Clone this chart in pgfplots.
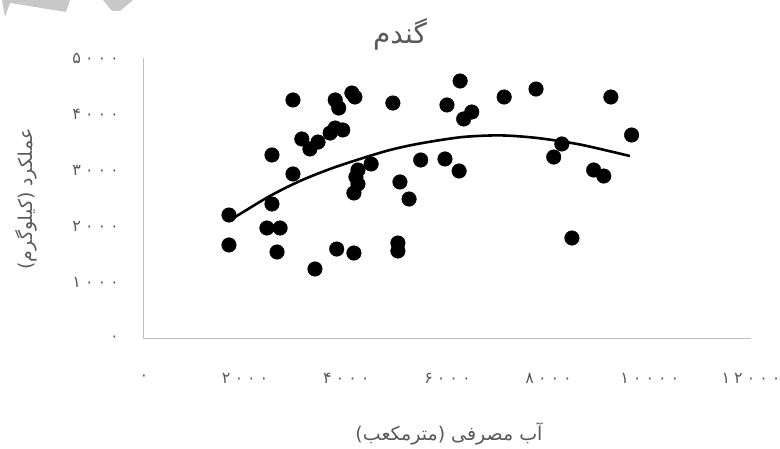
\documentclass[border=0pt]{standalone}
\usepackage{fontspec}
\usepackage{pgfplots}
\pgfplotsset{compat=1.18}
\TeXXeTstate=1
\newfontfamily\arabicfont[Script=Arabic]{DejaVu Sans}
\newfontfamily\digitfont[LetterSpace=25]{DejaVu Sans}
\definecolor{txtgray}{RGB}{89,89,89}
\definecolor{axgray}{RGB}{191,191,191}
\definecolor{wmgray}{RGB}{200,200,200}

\begin{document}
\begin{tikzpicture}
% page = 780 x 449, plot area lower left at (0,0)
\path[use as bounding box] (-144pt,-110pt) rectangle (636pt,339pt);
% grey scrap at the top left corner of the crop
\fill[wmgray] (-144pt,339pt) -- (-74pt,339pt) -- (-78pt,327pt) -- (-134pt,336pt) -- (-139pt,322pt) -- (-142pt,339pt) -- cycle;
\fill[wmgray] (-41pt,339pt) -- (-11pt,339pt) -- (-24pt,328pt) -- (-32pt,328pt) -- cycle;

\begin{axis}[
  scale only axis,
  width=607pt, height=281pt,
  xmin=0, xmax=12000,
  ymin=0, ymax=5000,
  scaled x ticks=false, scaled y ticks=false,
  axis lines=left,
  axis line style={draw=axgray, line width=1pt, -},
  major tick length=0pt,
  tick style={draw=none},
  xtick={0,2000,4000,6000,8000,10000,12000},
  xticklabels={۰,۲۰۰۰,۴۰۰۰,۶۰۰۰,۸۰۰۰,۱۰۰۰۰,۱۲۰۰۰},
  ytick={0,1000,2000,3000,4000,5000},
  yticklabels={۰,۱۰۰۰,۲۰۰۰,۳۰۰۰,۴۰۰۰,۵۰۰۰},
  ticklabel style={font=\digitfont\fontsize{16}{19}\selectfont, text=txtgray, inner sep=0pt},
  xticklabel style={anchor=center, yshift=-39pt},
  yticklabel style={anchor=east, xshift=-25pt},
  clip=false,
]
% observations
\addplot[only marks, mark=*, mark size=7.3pt, draw=black, fill=black] coordinates {
  (1680,2206) (1680,1673) (2530,2402) (2530,3274) (2430,1975) (2690,1975)
  (2630,1548) (2945,4253) (2945,2936) (3120,3559) (3280,3381) (3440,3505)
  (3380,1246) (3680,3665) (3780,3754) (3930,3719) (3780,4253) (3850,4110)
  (3810,1601) (4110,4377) (4170,4306) (4150,1530) (4230,3007) (4190,2883)
  (4230,2758) (4150,2598) (4490,3114) (4920,4199) (5020,1708) (5020,1566)
  (5060,2794) (5240,2491) (5470,3185) (5950,3203) (6230,2989) (6250,4591)
  (5990,4164) (6480,4039) (6320,3915) (7120,4306) (7750,4448) (9230,4306)
  (9640,3630) (8260,3470) (8100,3238) (8890,3007) (9090,2900) (8460,1797)
};
% trend line
\addplot[black, line width=2.6pt, smooth, mark=none] coordinates {
  (1700,2117) (1897,2224) (2490,2545) (3083,2811) (3676,3025) (4269,3203)
  (4862,3363) (5455,3479) (6245,3589) (6838,3621) (7233,3617) (7826,3571)
  (8617,3461) (9605,3256)
};
\end{axis}

\node[font=\arabicfont\fontsize{28}{32}\selectfont, text=txtgray] at (256pt,305pt) {\beginR گندم\endR};
\node[font=\arabicfont\fontsize{19}{22}\selectfont, text=txtgray, rotate=90] at (-118pt,140pt) {\beginR عملکرد (کیلوگرم)\endR};
\node[font=\arabicfont\fontsize{19}{22}\selectfont, text=txtgray] at (305pt,-95pt) {\beginR آب مصرفی (مترمکعب)\endR};
\end{tikzpicture}
\end{document}
